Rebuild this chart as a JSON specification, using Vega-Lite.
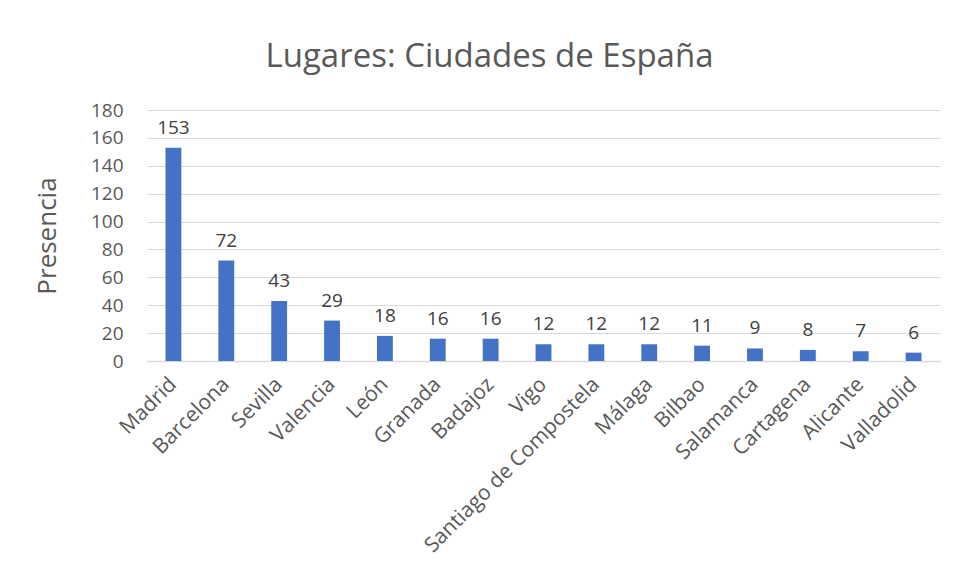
{
  "$schema": "https://vega.github.io/schema/vega-lite/v6.json",
  "width": 793,
  "height": 251,
  "autosize": {"type": "none"},
  "padding": {"left": 147, "top": 110, "right": 21, "bottom": 219},
  "background": "white",
  "title": {
    "text": "Lugares: Ciudades de España",
    "font": "Open Sans",
    "fontSize": 33,
    "fontWeight": "normal",
    "color": "#595959",
    "anchor": "middle",
    "frame": "group",
    "dx": -54,
    "offset": 27
  },
  "config": {
    "view": {"stroke": null},
    "font": "Open Sans"
  },
  "data": {
    "values": [
      {"ciudad": "Madrid", "presencia": 153},
      {"ciudad": "Barcelona", "presencia": 72},
      {"ciudad": "Sevilla", "presencia": 43},
      {"ciudad": "Valencia", "presencia": 29},
      {"ciudad": "León", "presencia": 18},
      {"ciudad": "Granada", "presencia": 16},
      {"ciudad": "Badajoz", "presencia": 16},
      {"ciudad": "Vigo", "presencia": 12},
      {"ciudad": "Santiago de Compostela", "presencia": 12},
      {"ciudad": "Málaga", "presencia": 12},
      {"ciudad": "Bilbao", "presencia": 11},
      {"ciudad": "Salamanca", "presencia": 9},
      {"ciudad": "Cartagena", "presencia": 8},
      {"ciudad": "Alicante", "presencia": 7},
      {"ciudad": "Valladolid", "presencia": 6}
    ]
  },
  "encoding": {
    "x": {
      "field": "ciudad",
      "type": "nominal",
      "sort": null,
      "scale": {"paddingInner": 0.7, "paddingOuter": 0.35},
      "axis": {
        "title": null,
        "labelAngle": -45,
        "labelAlign": "right",
        "labelBaseline": "middle",
        "labelFontSize": 21,
        "labelColor": "#595959",
        "labelPadding": 20,
        "ticks": false,
        "domainColor": "#d9d9d9",
        "domainWidth": 1.5,
        "labelLimit": 300
      }
    },
    "y": {
      "field": "presencia",
      "type": "quantitative",
      "scale": {"domain": [0, 180], "nice": false},
      "axis": {
        "title": "Presencia",
        "titleFontSize": 26,
        "titleFontWeight": "normal",
        "titleColor": "#595959",
        "titlePadding": 30,
        "values": [0, 20, 40, 60, 80, 100, 120, 140, 160, 180],
        "labelFontSize": 19,
        "labelColor": "#595959",
        "labelPadding": 24,
        "ticks": false,
        "domain": false,
        "gridColor": "#d9d9d9",
        "gridWidth": 1.2
      }
    }
  },
  "layer": [
    {"mark": {"type": "bar", "color": "#4472C4"}},
    {
      "mark": {
        "type": "text",
        "baseline": "alphabetic",
        "dy": -14,
        "fontSize": 19,
        "color": "#404040"
      },
      "encoding": {"text": {"field": "presencia", "type": "quantitative"}}
    }
  ]
}
